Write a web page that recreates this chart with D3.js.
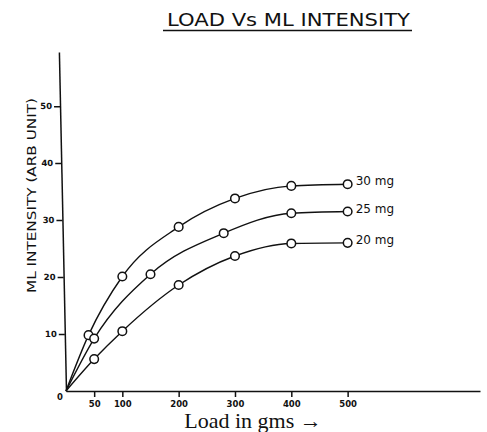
<!DOCTYPE html>
<html>
<head>
<meta charset="utf-8">
<script src="https://cdn.jsdelivr.net/npm/d3@7"></script>
<style>
  body { margin: 0; background: #fff; }
  svg { display: block; }
</style>
</head>
<body>
<svg id="chart"></svg>
<script>
// loads (gms) and ML intensity (arb. unit)
const loads30 = [40, 100, 200, 300, 400, 500];
const mg30 = [9.8, 20.1, 28.8, 33.8, 36.0, 36.3];
const loads25 = [50, 150, 280, 400, 500];
const mg25 = [9.2, 20.5, 27.7, 31.2, 31.5];
const loads20 = [50, 100, 200, 300, 400, 500];
const mg20 = [5.6, 10.5, 18.6, 23.7, 25.9, 26.0];
const seriesNames = ["30 mg", "25 mg", "20 mg"];
const xTicks = [50, 100, 200, 300, 400, 500];
const yTicks = [10, 20, 30, 40, 50];

width = 487;
height = 432;

const svg = d3.select("#chart")
    .attr("width", width)
    .attr("height", height)
    .attr("viewBox", [0, 0, width, height]);

x = d3.scaleLinear()
    .domain([0, 735])
    .range([66, 480]);

y = d3.scaleLinear()
    .domain([0, 59.5])
    .range([391, 52]);

const series = [
    { name: seriesNames[0], pts: loads30.map((l, i) => ({ l: l, v: mg30[i] })) },
    { name: seriesNames[1], pts: loads25.map((l, i) => ({ l: l, v: mg25[i] })) },
    { name: seriesNames[2], pts: loads20.map((l, i) => ({ l: l, v: mg20[i] })) }
];

// title
svg.append("text")
    .attr("x", 167)
    .attr("y", 26)
    .attr("font-family", "DejaVu Sans")
    .attr("font-size", 17)
    .attr("textLength", 243)
    .attr("lengthAdjust", "spacingAndGlyphs")
    .attr("fill", "#111")
    .text("LOAD Vs ML INTENSITY");
svg.append("line")
    .attr("x1", 163).attr("x2", 412)
    .attr("y1", 30.5).attr("y2", 30.5)
    .attr("stroke", "#111")
    .attr("stroke-width", 1.3);

// axes
const xAxis = g => g
    .attr("transform", `translate(0,${y(0)})`)
    .call(d3.axisBottom(x).tickValues(xTicks).tickSize(6).tickSizeOuter(0).tickPadding(4))
    .call(g => g.selectAll("text")
        .attr("font-family", "DejaVu Sans")
        .attr("font-weight", "bold")
        .attr("font-size", 8.5)
        .attr("fill", "#111"));

const yAxis = g => g
    .attr("transform", `translate(${x(0)},0) translate(0,${y(0)}) skewX(1.2) translate(0,${-y(0)})`)
    .call(d3.axisLeft(y).tickValues(yTicks).tickSize(6).tickSizeOuter(0).tickPadding(2))
    .call(g => g.selectAll("text")
        .attr("font-family", "DejaVu Sans")
        .attr("font-weight", "bold")
        .attr("font-size", 8.5)
        .attr("fill", "#111"));

svg.append("g").call(xAxis);
svg.append("g").call(yAxis);
svg.selectAll(".domain, .tick line")
    .attr("stroke", "#111")
    .attr("stroke-width", 1.5);

svg.append("text")
    .attr("x", x(0) - 9)
    .attr("y", y(0) + 9)
    .attr("font-family", "DejaVu Sans")
    .attr("font-weight", "bold")
    .attr("font-size", 8.5)
    .attr("fill", "#111")
    .text("0");

// axis titles
svg.append("text")
    .attr("transform", "translate(36,195.5) rotate(-90)")
    .attr("text-anchor", "middle")
    .attr("font-family", "DejaVu Sans")
    .attr("font-size", 12)
    .attr("textLength", 195)
    .attr("lengthAdjust", "spacingAndGlyphs")
    .attr("fill", "#111")
    .text("ML INTENSITY (ARB UNIT)");

svg.append("text")
    .attr("x", 253)
    .attr("y", 428)
    .attr("text-anchor", "middle")
    .attr("font-family", "Liberation Serif")
    .attr("font-size", 22)
    .attr("fill", "#111")
    .text("Load in gms \u2192");

// curves, all starting at the origin
const line = d3.line()
    .x(d => x(d.l))
    .y(d => y(d.v))
    .curve(d3.curveMonotoneX);

svg.append("g")
    .selectAll("path")
    .data(series)
    .join("path")
    .attr("d", d => line([{ l: 0, v: 0 }].concat(d.pts)))
    .attr("fill", "none")
    .attr("stroke", "#111")
    .attr("stroke-width", 1.4);

svg.append("g")
    .selectAll("circle")
    .data(series.flatMap(s => s.pts))
    .join("circle")
    .attr("cx", d => x(d.l))
    .attr("cy", d => y(d.v))
    .attr("r", 4.3)
    .attr("fill", "#fff")
    .attr("stroke", "#111")
    .attr("stroke-width", 1.5);

svg.append("g")
    .selectAll("text")
    .data(series)
    .join("text")
    .attr("x", d => x(d.pts[d.pts.length - 1].l) + 8)
    .attr("y", d => y(d.pts[d.pts.length - 1].v) + 1)
    .attr("font-family", "DejaVu Sans")
    .attr("font-size", 12)
    .attr("fill", "#111")
    .text(d => d.name);
</script>
</body>
</html>
